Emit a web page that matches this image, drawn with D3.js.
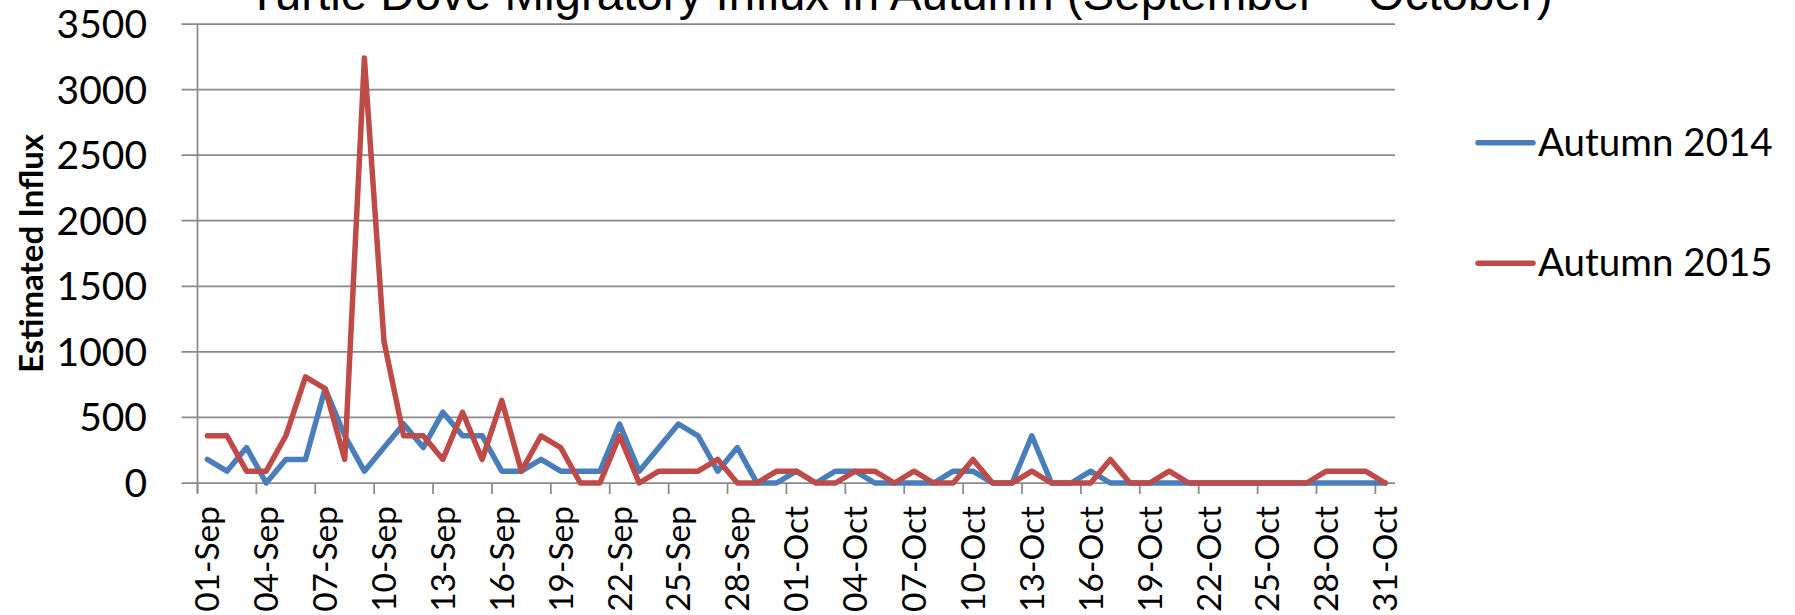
<!DOCTYPE html>
<html>
<head>
<meta charset="utf-8">
<script src="https://cdn.jsdelivr.net/npm/d3@7"></script>
<style>
  body { margin: 0; background: #fff; }
  svg { display: block; }
</style>
</head>
<body>
<div id="wrapper"></div>
<script>
// categories: every day from 1 Sep to 31 Oct
const days = d3.timeDay.range(new Date(2015, 8, 1), new Date(2015, 10, 1));
const dayLabels = days.map(d3.timeFormat("%d-%b"));

// estimated influx per day
const autumn2014 = [180, 90, 270, 0, 180, 180, 720, 360, 90, 270,
    450, 270, 540, 360, 360, 90, 90, 180, 90, 90,
    90, 450, 90, 270, 450, 360, 90, 270, 0, 0,
    90, 0, 90, 90, 0, 0, 0, 0, 90, 90,
    0, 0, 360, 0, 0, 90, 0, 0, 0, 0,
    0, 0, 0, 0, 0, 0, 0, 0, 0, 0, 0];
const autumn2015 = [360, 360, 90, 90, 360, 810, 720, 180, 3240, 1080,
    360, 360, 180, 540, 180, 630, 90, 360, 270, 0,
    0, 360, 0, 90, 90, 90, 180, 0, 0, 90,
    90, 0, 0, 90, 90, 0, 90, 0, 0, 180,
    0, 0, 90, 0, 0, 0, 180, 0, 0, 90,
    0, 0, 0, 0, 0, 0, 0, 90, 90, 90, 0];

const seriesNames = ["Autumn 2014", "Autumn 2015"];
const seriesColors = ["#4a7ebb", "#be4b48"];
const yTicks = [0, 500, 1000, 1500, 2000, 2500, 3000, 3500];

const width = 1795, height = 615;
const margin = {top: 24, right: 400, bottom: 132, left: 197.5};

const svg = d3.select("#wrapper")
    .append("svg")
    .attr("width", width)
    .attr("height", height);

const x = d3.scaleBand()
    .domain(dayLabels)
    .range([margin.left, 1395])
    .paddingInner(0)
    .paddingOuter(0);

const y = d3.scaleLinear()
    .domain([0, 3500])
    .range([height - margin.bottom, margin.top]);

const grey = "#8a8a8a";

// gridlines (include the little tick stub left of the axis)
svg.append("g")
    .selectAll("line")
    .data(yTicks)
    .enter()
    .append("line")
    .attr("x1", margin.left - 16)
    .attr("x2", x.range()[1])
    .attr("y1", d => y(d))
    .attr("y2", d => y(d))
    .attr("stroke", grey)
    .attr("stroke-width", 1.75);

// y axis line
svg.append("line")
    .attr("x1", margin.left)
    .attr("x2", margin.left)
    .attr("y1", y(3500))
    .attr("y2", y(0) + 10)
    .attr("stroke", grey)
    .attr("stroke-width", 1.75);

// y tick labels
svg.append("g")
    .selectAll("text")
    .data(yTicks)
    .enter()
    .append("text")
    .attr("x", 147)
    .attr("y", d => y(d) + 14)
    .attr("text-anchor", "end")
    .style("font-family", "Lato")
    .style("font-size", "39px")
    .text(d => d);

// x tick marks every 3 days, on category boundaries
const tickDays = dayLabels.filter((d, i) => i % 3 === 0);
svg.append("g")
    .selectAll("line")
    .data(tickDays)
    .enter()
    .append("line")
    .attr("x1", d => x(d))
    .attr("x2", d => x(d))
    .attr("y1", y(0))
    .attr("y2", y(0) + 11)
    .attr("stroke", grey)
    .attr("stroke-width", 1.75);

// x tick labels, rotated
svg.append("g")
    .selectAll("text")
    .data(tickDays)
    .enter()
    .append("text")
    .attr("transform", d => `translate(${x(d) + x.bandwidth() / 2 + 12},${y(0) + 23}) rotate(-90)`)
    .attr("text-anchor", "end")
    .style("font-family", "Lato")
    .style("font-size", "33.5px")
    .text(d => d);

// y axis title
svg.append("text")
    .attr("transform", `translate(43,${(y(0) + y(3500)) / 2}) rotate(-90)`)
    .attr("text-anchor", "middle")
    .style("font-family", "Lato")
    .style("font-weight", "700")
    .style("font-size", "33px")
    .text("Estimated Influx");

// lines
const line = d3.line()
    .x((d, i) => x(dayLabels[i]) + x.bandwidth() / 2)
    .y(d => y(d));

[autumn2014, autumn2015].forEach((s, k) => {
    svg.append("path")
        .datum(s)
        .attr("d", line)
        .attr("fill", "none")
        .attr("stroke", seriesColors[k])
        .attr("stroke-width", 5.5)
        .attr("stroke-linejoin", "round")
        .attr("stroke-linecap", "round");
});

// title, cut off by the top edge as in the original
svg.append("text")
    .attr("x", 900)
    .attr("y", 10)
    .attr("text-anchor", "middle")
    .style("font-family", "Liberation Sans")
    .style("font-size", "47.5px")
    .text("Turtle Dove Migratory Influx in Autumn (September \u2013 October)");

// legend
const legend = svg.append("g")
    .selectAll("g")
    .data(seriesNames)
    .enter()
    .append("g")
    .attr("transform", (d, i) => `translate(1478,${142.7 + i * 120.6})`);

legend.append("line")
    .attr("x1", 0)
    .attr("x2", 55)
    .attr("stroke", (d, i) => seriesColors[i])
    .attr("stroke-width", 5.5)
    .attr("stroke-linecap", "round");

legend.append("text")
    .attr("x", 60)
    .attr("y", 13)
    .style("font-family", "Lato")
    .style("font-size", "38.5px")
    .text(d => d);
</script>
</body>
</html>
